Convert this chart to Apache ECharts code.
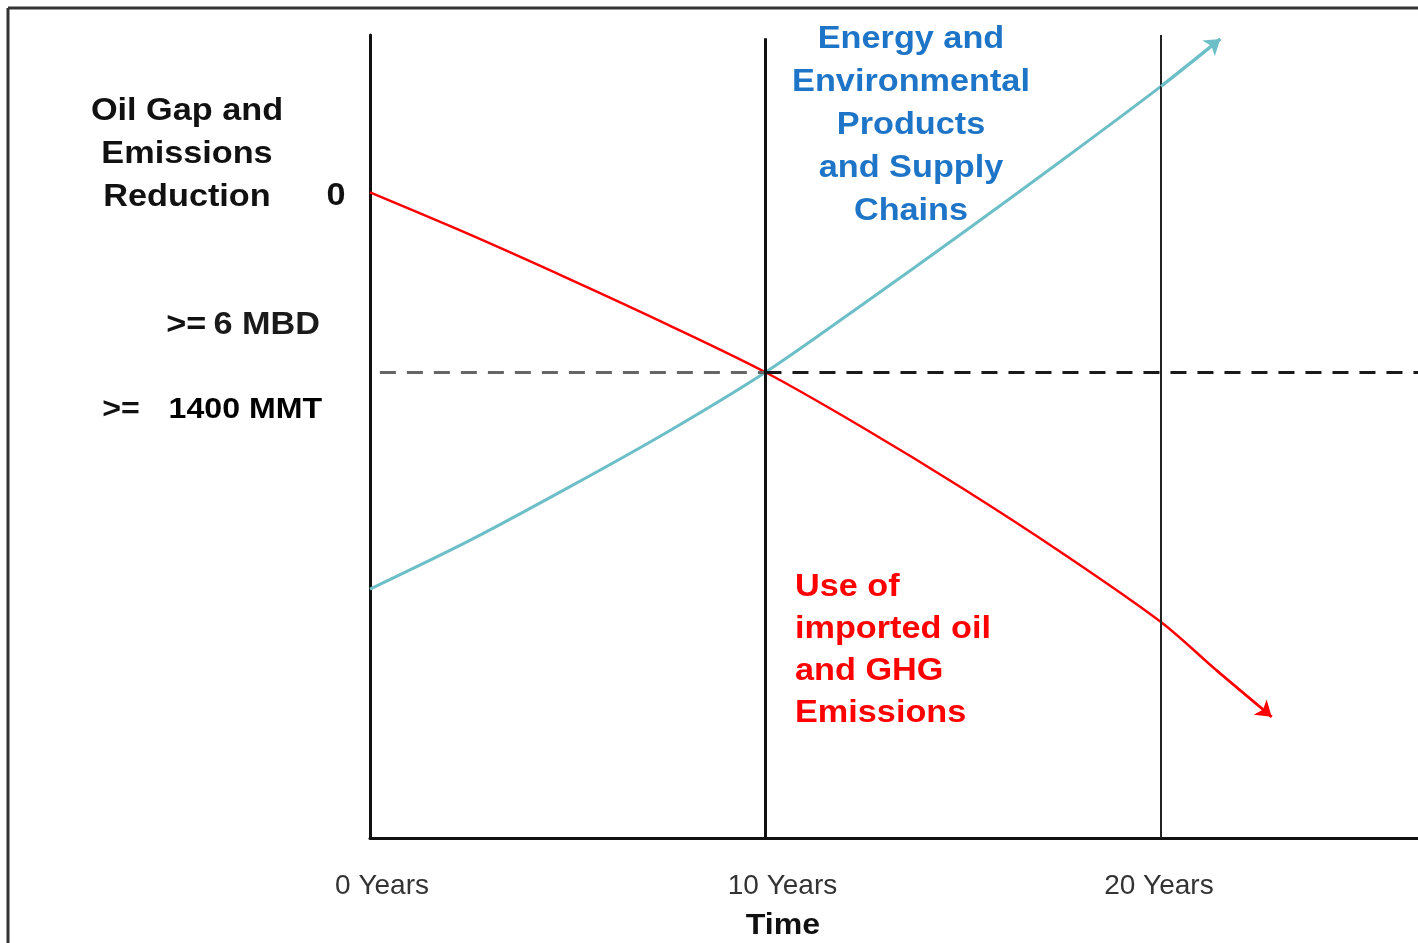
<!DOCTYPE html>
<html>
<head>
<meta charset="utf-8">
<script src="https://cdn.jsdelivr.net/npm/echarts@6/dist/echarts.min.js"></script>
<style>
  html, body { margin: 0; padding: 0; background: #ffffff; }
  #chart { width: 1418px; height: 943px; }
</style>
</head>
<body>
<div id="chart"></div>
<script>
// Time axis ticks (years) and their labels
const tickYears = [0, 10, 20];
const tickLabels = ['0 Years', '10 Years', '20 Years'];

// Use of imported oil and GHG emissions (declining)
const oilYears = [0, 2.5, 5, 7.5, 10, 12.5, 15, 17.5, 20, 21.4, 22.8];
const oilValues = [80.4, 75.2, 69.7, 64.0, 58.0, 51.0, 43.5, 35.5, 26.9, 20.9, 15.1];

// Energy and environmental products and supply chains (rising)
const energyYears = [0, 2.5, 5, 7.5, 10, 12.5, 15, 17.5, 20, 21.5];
const energyValues = [31.0, 37.0, 43.6, 50.5, 58.0, 66.6, 75.4, 84.4, 93.6, 99.5];

// Oil gap / emissions reduction target level and its extent
const targetValue = 58.0;
const targetStart = 0.25;
const axisEndYear = 26.5;

const FONT = '"Liberation Sans", Arial, sans-serif';

function pairs(xs, ys) { return xs.map((x, i) => [x, ys[i]]); }
function arrowSegment(xs, ys) {
  const n = xs.length;
  return [[{ coord: [xs[n - 2], ys[n - 2]] }, { coord: [xs[n - 1], ys[n - 1]] }]];
}

// per-label horizontal nudges for the time tick labels
const tickRich = {
  t0: { padding: [0, 0, 0, 24] },
  t1: { padding: [0, 0, 0, 34] },
  t2: { padding: [0, 4, 0, 0] }
};
Object.keys(tickRich).forEach(k => Object.assign(tickRich[k], {
  fontFamily: FONT, fontSize: 28, color: '#333'
}));

const chart = echarts.init(document.getElementById('chart'), null, { renderer: 'canvas' });

const option = {
  animation: false,
  backgroundColor: '#ffffff',
  grid: { left: 370, right: 0, top: 35, bottom: 105, containLabel: false },
  xAxis: {
    type: 'value',
    min: 0,
    max: axisEndYear,
    interval: 10,
    axisLine: { show: true, onZero: false, lineStyle: { color: '#111', width: 3 } },
    axisTick: { show: false },
    splitLine: { show: false },
    axisLabel: {
      showMaxLabel: false,
      margin: 34,
      color: '#333',
      fontFamily: FONT,
      fontSize: 28,
      rich: tickRich,
      formatter: function (v) {
        const i = tickYears.indexOf(v);
        return i >= 0 ? '{t' + i + '|' + tickLabels[i] + '}' : '';
      }
    }
  },
  yAxis: {
    type: 'value',
    min: 0,
    max: 100,
    axisLine: { show: true, onZero: false, lineStyle: { color: '#111', width: 3 } },
    axisTick: { show: false },
    axisLabel: { show: false },
    splitLine: { show: false }
  },
  series: [
    {
      name: 'guides',
      type: 'line',
      data: [],
      silent: true,
      markLine: {
        silent: true,
        symbol: 'none',
        label: { show: false },
        data: [
          [{ coord: [targetStart, targetValue], lineStyle: { color: '#666', width: 3, type: [16, 11] } },
           { coord: [tickYears[1], targetValue] }],
          [{ coord: [tickYears[1], targetValue], lineStyle: { color: '#1a1a1a', width: 3, type: [16, 11] } },
           { coord: [axisEndYear, targetValue] }],
          [{ coord: [tickYears[1], 0], lineStyle: { color: '#111', width: 3, type: 'solid' } },
           { coord: [tickYears[1], 99.6] }],
          [{ coord: [tickYears[2], 0], lineStyle: { color: '#222', width: 2, type: 'solid' } },
           { coord: [tickYears[2], 100] }]
        ]
      }
    },
    {
      name: 'Energy and Environmental Products and Supply Chains',
      type: 'line',
      data: pairs(energyYears, energyValues),
      smooth: 0.3,
      showSymbol: false,
      lineStyle: { color: '#6cbfc7', width: 3 },
      markLine: {
        silent: true,
        symbol: ['none', 'arrow'],
        symbolSize: 15,
        label: { show: false },
        lineStyle: { color: '#6cbfc7', width: 3, type: 'solid' },
        data: arrowSegment(energyYears, energyValues)
      }
    },
    {
      name: 'Use of imported oil and GHG Emissions',
      type: 'line',
      data: pairs(oilYears, oilValues),
      smooth: 0.3,
      showSymbol: false,
      lineStyle: { color: '#ff0000', width: 2.5 },
      markLine: {
        silent: true,
        symbol: ['none', 'arrow'],
        symbolSize: 15,
        label: { show: false },
        lineStyle: { color: '#ff0000', width: 2.5, type: 'solid' },
        data: arrowSegment(oilYears, oilValues)
      }
    }
  ],
  graphic: [
    // outer frame (top and left edges)
    { type: 'line', silent: true, shape: { x1: 8, y1: 8, x2: 1418, y2: 8 }, style: { stroke: '#333', lineWidth: 3 } },
    { type: 'line', silent: true, shape: { x1: 8, y1: 8, x2: 8, y2: 943 }, style: { stroke: '#333', lineWidth: 3 } },
    {
      type: 'text', x: 187, y: 154, scaleX: 1.07,
      style: { text: 'Oil Gap and\nEmissions\nReduction', font: 'bold 32px ' + FONT, fill: '#111',
               align: 'center', verticalAlign: 'middle', lineHeight: 43 }
    },
    {
      type: 'text', x: 336, y: 196, scaleX: 1.07,
      style: { text: '0', font: 'bold 32px ' + FONT, fill: '#111', align: 'center', verticalAlign: 'middle' }
    },
    {
      type: 'text', x: 320, y: 325, scaleX: 1.07,
      style: {
        text: '{a|>=}  {b|6 MBD}', align: 'right', verticalAlign: 'middle',
        rich: {
          a: { fontFamily: FONT, fontWeight: 'bold', fontSize: 32, fill: '#111' },
          b: { fontFamily: FONT, fontWeight: 'bold', fontSize: 32, fill: '#1a1a1a' }
        }
      }
    },
    {
      type: 'text', x: 121, y: 410, scaleX: 1.07,
      style: { text: '>=', font: 'bold 30px ' + FONT, fill: '#111', align: 'center', verticalAlign: 'middle' }
    },
    {
      type: 'text', x: 322, y: 410, scaleX: 1.07,
      style: { text: '1400 MMT', font: 'bold 30px ' + FONT, fill: '#000', align: 'right', verticalAlign: 'middle' }
    },
    {
      type: 'text', x: 911, y: 125.5, scaleX: 1.07,
      style: { text: 'Energy and\nEnvironmental\nProducts\nand Supply\nChains', font: 'bold 32px ' + FONT,
               fill: '#1e74c6', align: 'center', verticalAlign: 'middle', lineHeight: 43 }
    },
    {
      type: 'text', x: 795, y: 650.5, scaleX: 1.07,
      style: { text: 'Use of\nimported oil\nand GHG\nEmissions', font: 'bold 32px ' + FONT,
               fill: '#ff0000', align: 'left', verticalAlign: 'middle', lineHeight: 42 }
    },
    {
      type: 'text', x: 783, y: 926, scaleX: 1.07,
      style: { text: 'Time', font: 'bold 30px ' + FONT, fill: '#111', align: 'center', verticalAlign: 'middle' }
    }
  ]
};

chart.setOption(option);
</script>
</body>
</html>
